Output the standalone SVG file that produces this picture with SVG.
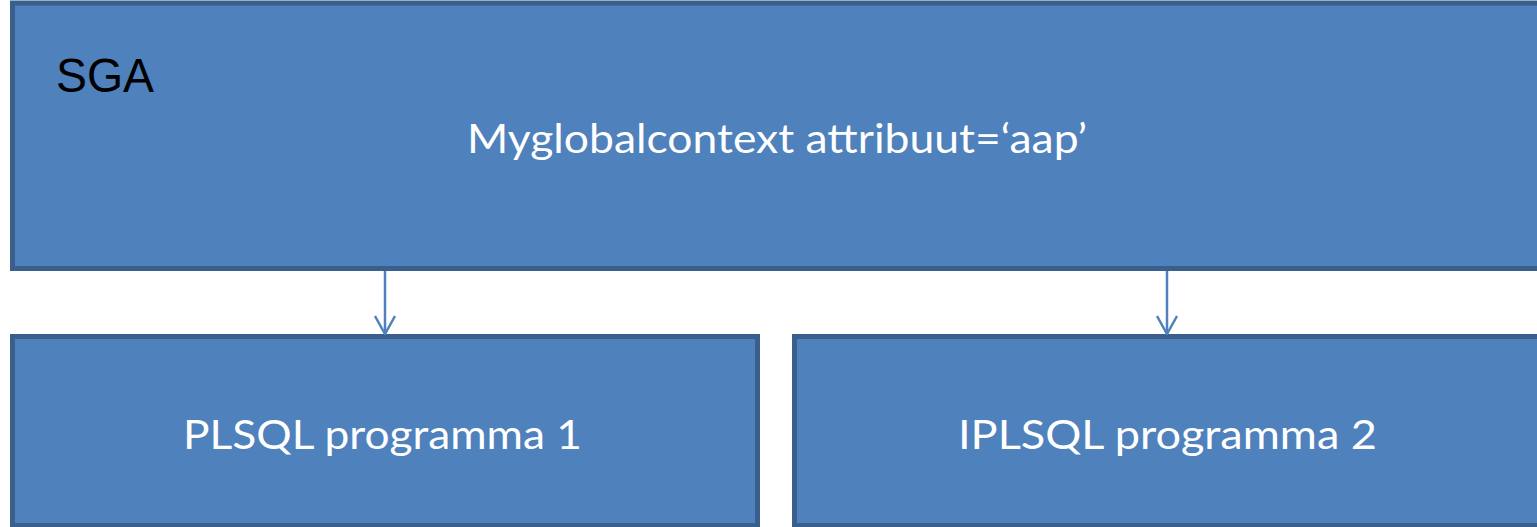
<svg xmlns="http://www.w3.org/2000/svg" width="1537" height="527" viewBox="0 0 1537 527">
  <style>
    .box { fill: #4f81bd; stroke: #3a5f8c; stroke-width: 5; }
    .lbl { font-family: Lato, "Open Sans", sans-serif; font-size: 40px; fill: #ffffff; }
    .sga { font-family: "Liberation Sans", Arial, sans-serif; font-size: 48px; fill: #000000; }
    .conn { stroke: #4f81bd; stroke-width: 2.5; fill: none; }
  </style>
  <defs>
    <marker id="arr" viewBox="0 0 20 22" refX="19" refY="11" markerWidth="20" markerHeight="22" markerUnits="userSpaceOnUse" orient="auto">
      <path d="M1,1 L19,11 L1,21" fill="none" stroke="#4f81bd" stroke-width="2.5"/>
    </marker>
  </defs>
  <rect width="1537" height="527" fill="#ffffff"/>
  <g id="sga">
    <rect class="box" x="12.5" y="3" width="1540" height="265.5"/>
    <text class="sga" x="56" y="92" textLength="98" lengthAdjust="spacingAndGlyphs">SGA</text>
    <text class="lbl" x="467" y="153" textLength="620" lengthAdjust="spacingAndGlyphs">Myglobalcontext attribuut=‘aap’</text>
  </g>
  <g id="prog1">
    <rect class="box" x="12.5" y="336.5" width="745" height="189"/>
    <text class="lbl" x="183" y="449" textLength="399" lengthAdjust="spacingAndGlyphs">PLSQL programma 1</text>
  </g>
  <g id="prog2">
    <rect class="box" x="794.5" y="336.5" width="760" height="189"/>
    <text class="lbl" x="958" y="449" textLength="419" lengthAdjust="spacingAndGlyphs">IPLSQL programma 2</text>
  </g>
  <g id="connectors">
    <line class="conn" x1="385" y1="271" x2="385" y2="334" marker-end="url(#arr)"/>
    <line class="conn" x1="1167" y1="271" x2="1167" y2="334" marker-end="url(#arr)"/>
  </g>
</svg>
